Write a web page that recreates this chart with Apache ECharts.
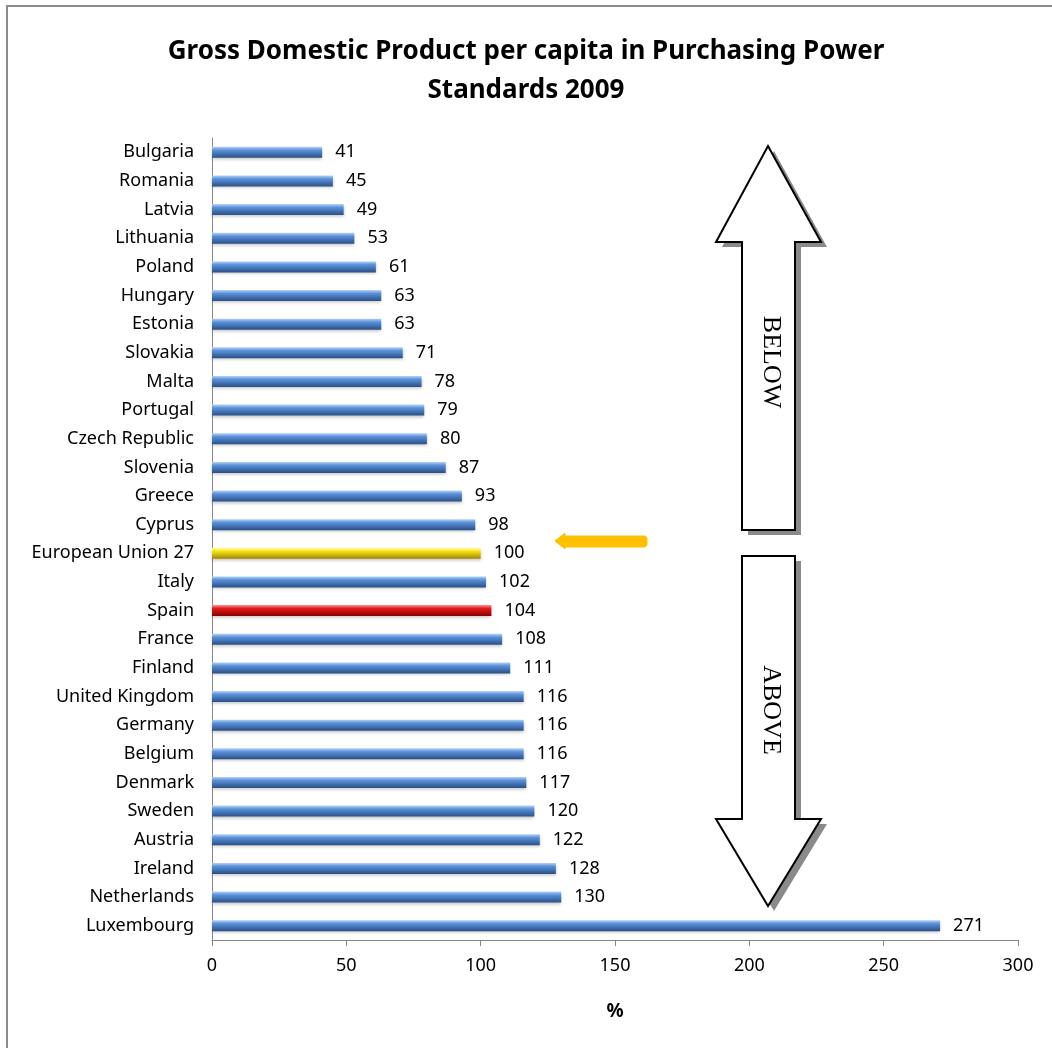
<!DOCTYPE html>
<html>
<head>
<meta charset="utf-8">
<script src="https://cdn.jsdelivr.net/npm/echarts@6/dist/echarts.min.js"></script>
<style>
html,body{margin:0;padding:0;background:#fff;}
#chart{width:1052px;height:1048px;}
</style>
</head>
<body>
<div id="chart"></div>
<script>
const countries = ["Bulgaria","Romania","Latvia","Lithuania","Poland","Hungary","Estonia","Slovakia","Malta","Portugal","Czech Republic","Slovenia","Greece","Cyprus","European Union 27","Italy","Spain","France","Finland","United Kingdom","Germany","Belgium","Denmark","Sweden","Austria","Ireland","Netherlands","Luxembourg"];
const values = [41,45,49,53,61,63,63,71,78,79,80,87,93,98,100,102,104,108,111,116,116,116,117,120,122,128,130,271];
const xTicks = [0,50,100,150,200,250,300];
const titleText = "Gross Domestic Product per capita in Purchasing Power\nStandards 2009";
const axisName = "%";

const FONT = "Noto Sans";
function grad(top, mid, bot) {
  return new echarts.graphic.LinearGradient(0,0,0,1,[
    {offset:0, color: top},{offset:0.3, color: mid},{offset:1, color: bot}
  ]);
}
const blue = grad('#b5d3f7','#5b92dc','#2a4f85');
const yellow = grad('#ffffa0','#f7e51a','#a08600');
const red = grad('#ff9090','#e41a1a','#880000');

const data = values.map((v,i)=>{
  let c = blue;
  if (countries[i] === "European Union 27") c = yellow;
  if (countries[i] === "Spain") c = red;
  return {value: v, itemStyle: {color: c, shadowColor:'rgba(0,0,0,0.22)', shadowBlur:3, shadowOffsetY:2}};
});

const upPts = [[768,146],[821,242],[795,242],[795,530],[742,530],[742,242],[716,242]];
const downPts = [[742,556],[795,556],[795,819],[821,819],[768,906],[716,819],[742,819]];
const shift = (pts,dx,dy) => pts.map(p=>[p[0]+dx,p[1]+dy]);

const chart = echarts.init(document.getElementById('chart'));
chart.setOption({
  animation:false,
  backgroundColor:'#fff',
  title:{
    text:titleText, left:'center', top:27,
    textStyle:{fontFamily:FONT, fontSize:26, fontWeight:'bold', color:'#000', lineHeight:39}
  },
  grid:{left:212, right:34, top:138, bottom:108, containLabel:false},
  xAxis:{
    type:'value', min:0, max:300, interval:50,
    name:axisName, nameLocation:'middle', nameGap:62,
    nameTextStyle:{fontFamily:FONT, fontSize:19, fontWeight:'bold', color:'#000'},
    axisLine:{show:true, lineStyle:{color:'#868686'}},
    axisTick:{show:true, length:6, lineStyle:{color:'#868686'}},
    axisLabel:{fontFamily:FONT, fontSize:18, color:'#000', margin:17,
      formatter: v => xTicks.includes(v) ? String(v) : ''},
    splitLine:{show:false}
  },
  yAxis:{
    type:'category', data:countries, inverse:true,
    axisLine:{show:true, lineStyle:{color:'#868686'}},
    axisTick:{show:false},
    axisLabel:{fontFamily:FONT, fontSize:18, color:'#000', margin:18}
  },
  series:[{
    type:'bar', data:data, barWidth:11,
    label:{show:true, position:'right', distance:13, fontFamily:FONT, fontSize:18, color:'#000'}
  }],
  graphic:[
    {type:'rect', shape:{x:7, y:6, width:1200, height:1200}, style:{fill:'none', stroke:'#8c8c8c', lineWidth:2}, silent:true, z:0},
    {type:'polygon', shape:{points:shift(upPts,6,5)}, style:{fill:'#8a8a8a'}, z:9},
    {type:'polygon', shape:{points:upPts}, style:{fill:'#fff', stroke:'#000', lineWidth:2}, z:10},
    {type:'polygon', shape:{points:shift(downPts,6,5)}, style:{fill:'#8a8a8a'}, z:9},
    {type:'polygon', shape:{points:downPts}, style:{fill:'#fff', stroke:'#000', lineWidth:2}, z:10},
    {type:'text', x:771, y:362, rotation:-Math.PI/2, z:11,
      style:{text:'BELOW', fill:'#000', font:'26px "Liberation Serif"', textAlign:'center', textVerticalAlign:'middle'}},
    {type:'text', x:771, y:710, rotation:-Math.PI/2, z:11,
      style:{text:'ABOVE', fill:'#000', font:'26px "Liberation Serif"', textAlign:'center', textVerticalAlign:'middle'}},
    {type:'polygon', shape:{points:[[555,541],[565,533],[565,536],[645,536],[647,538],[647,545],[645,547],[565,547],[565,549]]},
      style:{fill:'#ffc000', stroke:'#ffc000', lineWidth:1, lineJoin:'round'}, z:10}
  ]
});
</script>
</body>
</html>
